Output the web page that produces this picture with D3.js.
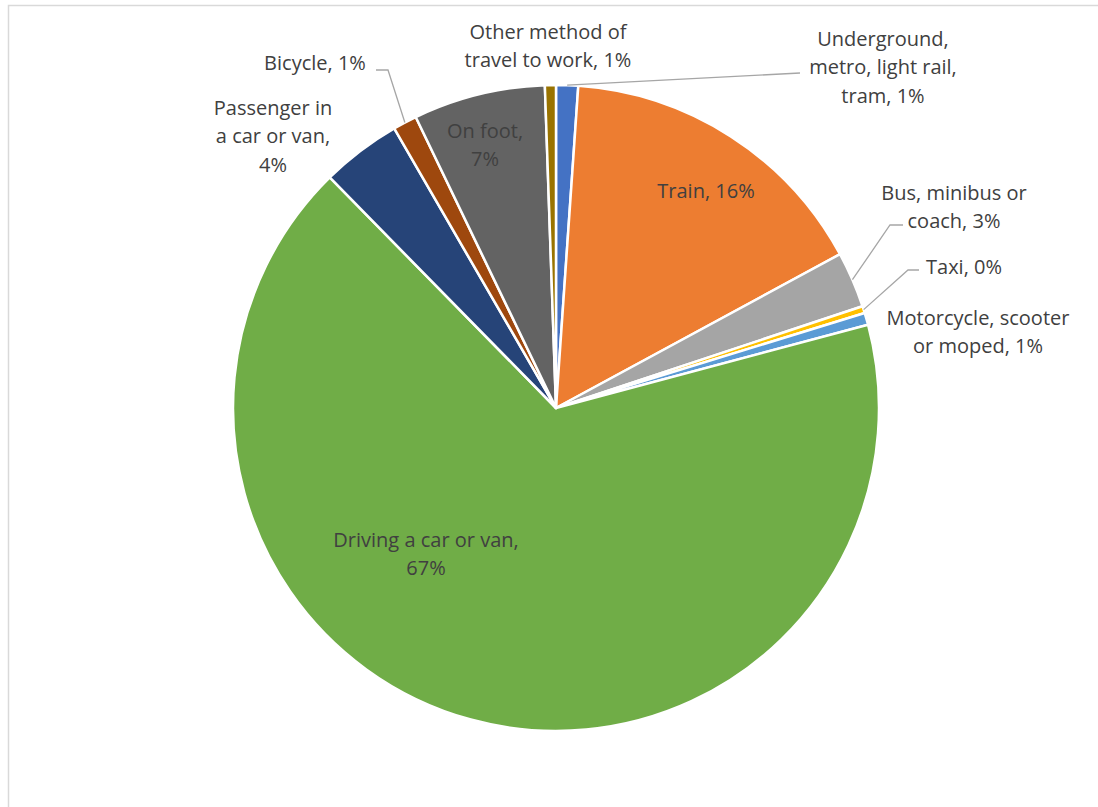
<!DOCTYPE html>
<html>
<head>
<meta charset="utf-8">
<script src="https://cdn.jsdelivr.net/npm/d3@7"></script>
<style>
  body { margin: 0; background: #fff; }
</style>
</head>
<body>
<div id="chart"></div>
<script>
// Data (percent of commuters)
const categories = [
    "Underground, metro, light rail, tram",
    "Train",
    "Bus, minibus or coach",
    "Taxi",
    "Motorcycle, scooter or moped",
    "Driving a car or van",
    "Passenger in a car or van",
    "Bicycle",
    "On foot",
    "Other method of travel to work"
];
const values = [1.1, 16.0, 2.8, 0.35, 0.6, 66.8, 4.0, 1.2, 6.6, 0.55];

// Office palette
const colors = ["#4472C4", "#ED7D31", "#A5A5A5", "#FFC000", "#5B9BD5",
                "#70AD47", "#264478", "#9E480E", "#636363", "#997300"];

// Label layout: centre x, block centre y, words per line, leader points
const labelLayout = [
    { x: 883, y: 67,  lines: [1, 3, 2], leader: [[800, 73]] },
    { x: 706, y: 191, lines: [2] },
    { x: 954, y: 207, lines: [3, 2], leader: [[890, 225], [903, 225]] },
    { x: 964, y: 267, lines: [2], leader: [[908, 270], [919, 270]] },
    { x: 978, y: 332, lines: [2, 3] },
    { x: 426, y: 554, lines: [5, 1] },
    { x: 273, y: 136, lines: [2, 4, 1] },
    { x: 315, y: 63,  lines: [2], leader: [[388, 70], [376, 70]] },
    { x: 485, y: 145, lines: [2, 1] },
    { x: 548, y: 46,  lines: [3, 4] }
];

const width = 1098, height = 807;
const cx = 556, cy = 408, radius = 323;
const lineHeight = 28.5;

const svg = d3.select("#chart")
    .append("svg")
    .attr("width", width)
    .attr("height", height)
    .style("display", "block");

// Chart area border
svg.append("rect")
    .attr("x", 8.5)
    .attr("y", 5.5)
    .attr("width", width + 20)
    .attr("height", height + 20)
    .attr("fill", "#fff")
    .attr("stroke", "#D9D9D9")
    .attr("stroke-width", 1.5);

const pie = d3.pie().sort(null).value(d => d);
const arcs = pie(values);

const arc = d3.arc().innerRadius(0).outerRadius(radius);

const g = svg.append("g")
    .attr("transform", "translate(" + cx + "," + cy + ")");

g.selectAll("path.slice")
    .data(arcs)
    .enter()
    .append("path")
    .attr("class", "slice")
    .attr("d", arc)
    .attr("fill", (d, i) => colors[i])
    .attr("stroke", "#fff")
    .attr("stroke-width", 2.5)
    .attr("stroke-linejoin", "round");

const pct = d3.format(".0f");

// Leader lines
arcs.forEach((d, i) => {
    const lay = labelLayout[i];
    if (!lay.leader) return;
    const mid = (d.startAngle + d.endAngle) / 2;
    const start = [cx + radius * Math.sin(mid), cy - radius * Math.cos(mid)];
    svg.append("path")
        .datum([start].concat(lay.leader))
        .attr("fill", "none")
        .attr("stroke", "#A6A6A6")
        .attr("stroke-width", 1.3)
        .attr("d", d3.line());
});

// Data labels
arcs.forEach((d, i) => {
    const lay = labelLayout[i];
    const words = (categories[i] + ", " + pct(values[i]) + "%").split(" ");
    const lines = [];
    let k = 0;
    lay.lines.forEach(n => {
        lines.push(words.slice(k, k + n).join(" "));
        k += n;
    });
    const top = lay.y - (lines.length - 1) * lineHeight / 2;
    const text = svg.append("text")
        .attr("text-anchor", "middle")
        .style("font-family", "'Open Sans', sans-serif")
        .style("font-size", "20px")
        .attr("fill", "#404040");
    lines.forEach((ln, j) => {
        text.append("tspan")
            .attr("x", lay.x)
            .attr("y", top + j * lineHeight)
            .attr("dy", "0.35em")
            .text(ln);
    });
});
</script>
</body>
</html>
